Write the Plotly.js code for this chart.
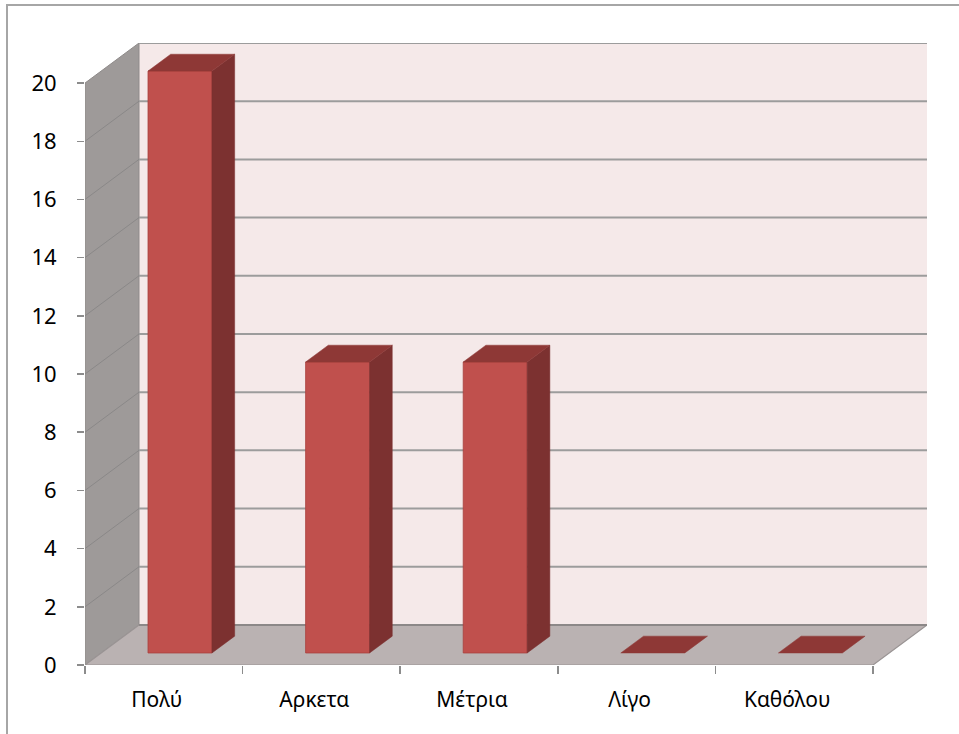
<!DOCTYPE html>
<html>
<head>
<meta charset="utf-8">
<script src="https://cdn.plot.ly/plotly-3.0.1.min.js"></script>
<style>
  html, body { margin: 0; padding: 0; background: #ffffff; }
  #frame { position: absolute; left: 6px; top: 4px; width: 980px; height: 760px;
           border: 2px solid #a6a6a6; box-sizing: border-box; pointer-events: none; }
  #chart { position: absolute; left: 0; top: 0; width: 959px; height: 734px; }
</style>
</head>
<body>
<div id="frame"></div>
<div id="chart"></div>
<script>
// ---- data ----
const categories = ['Πολύ', 'Αρκετα', 'Μέτρια', 'Λίγο', 'Καθόλου'];
const values = [20, 10, 10, 0, 0];
const yTickValues = [0, 2, 4, 6, 8, 10, 12, 14, 16, 18, 20];
const yTickLabels = ['0', '2', '4', '6', '8', '10', '12', '14', '16', '18', '20'];

// ---- pseudo-3D projection (depth offset expressed in axis units) ----
const N = categories.length;
const YMAX = 20;
const DX = 54 / 157.6;   // horizontal depth offset in category units
const DY = 40 / 29.05;   // vertical depth offset in value units
const D0 = 0.30, D1 = 0.72; // bar front / back depth
const HW = 0.203;           // bar half width

function P(x, y, d) { return [x + d * DX, y + d * DY]; }

function poly(pts, fill, lineColor, lineWidth) {
  const xs = [], ys = [];
  pts.forEach(p => { const q = P(p[0], p[1], p[2]); xs.push(q[0]); ys.push(q[1]); });
  xs.push(xs[0]); ys.push(ys[0]);
  return { type: 'scatter', mode: 'lines', x: xs, y: ys, fill: 'toself',
           fillcolor: fill, line: { color: lineColor || fill, width: lineWidth === undefined ? 0.5 : lineWidth },
           hoverinfo: 'skip', showlegend: false, xaxis: 'x', yaxis: 'y' };
}

function segments(list, color, width) {
  const xs = [], ys = [];
  list.forEach(s => {
    const a = P(s[0][0], s[0][1], s[0][2]);
    const b = P(s[1][0], s[1][1], s[1][2]);
    xs.push(a[0], b[0], null); ys.push(a[1], b[1], null);
  });
  return { type: 'scatter', mode: 'lines', x: xs, y: ys, line: { color: color, width: width },
           hoverinfo: 'skip', showlegend: false, xaxis: 'x', yaxis: 'y' };
}

const traces = [];
// back wall
traces.push(poly([[0, 0, 1], [N, 0, 1], [N, YMAX, 1], [0, YMAX, 1]], '#f5e9e9', '#f5e9e9', 0));
// left wall
traces.push(poly([[0, 0, 0], [0, YMAX, 0], [0, YMAX, 1], [0, 0, 1]], '#9e9a99', '#8f8b8a', 1));
// back wall gridlines
traces.push(segments(yTickValues.filter(v => v > 0).map(v => [[0, v, 1], [N, v, 1]]), '#9c9c9c', 2));
// left wall gridlines
traces.push(segments(yTickValues.filter(v => v > 0 && v < YMAX).map(v => [[0, v, 0], [0, v, 1]]), '#8a8888', 1));
// floor
traces.push(poly([[0, 0, 0], [N, 0, 0], [N, 0, 1], [0, 0, 1]], '#bab2b2', '#9a9494', 1.2));
// floor back edge
traces.push(segments([[[0, 0, 1], [N, 0, 1]]], '#8c8888', 2));

// bars
values.forEach((v, i) => {
  const x0 = i + 0.5 - HW, x1 = i + 0.5 + HW;
  if (v > 0) {
    traces.push(poly([[x0, 0, D0], [x1, 0, D0], [x1, v, D0], [x0, v, D0]], '#c0504d', '#a8403d', 0.8));
    traces.push(poly([[x1, 0, D0], [x1, 0, D1], [x1, v, D1], [x1, v, D0]], '#7c3130', '#7c3130', 0.5));
  }
  traces.push(poly([[x0, v, D0], [x1, v, D0], [x1, v, D1], [x0, v, D1]], '#8e3836', '#8e3836', 0.5));
});

// dummy trace on x2 so the boundary tick axis is drawn
traces.push({ type: 'scatter', mode: 'none', x: [0], y: [0], xaxis: 'x2', yaxis: 'y', hoverinfo: 'skip', showlegend: false });

const catCenters = categories.map((c, i) => i + 0.5);
const catBounds = categories.map((c, i) => i).concat([N]);

const font = { family: 'Noto Sans, Open Sans, sans-serif', size: 22, color: '#000000' };
const catFont = { family: 'Noto Sans, Open Sans, sans-serif', size: 21, color: '#000000' };

const layout = {
  width: 959, height: 734,
  margin: { l: 85, r: 32, t: 43, b: 69, pad: 0 },
  paper_bgcolor: 'rgba(0,0,0,0)',
  plot_bgcolor: 'rgba(0,0,0,0)',
  showlegend: false,
  font: font,
  xaxis: {
    range: [0, N + DX], fixedrange: true,
    tickmode: 'array', tickvals: catCenters, ticktext: categories,
    ticks: '', showgrid: false, zeroline: false, showline: false,
    tickfont: catFont, ticklabelshift: -7, ticklabelstandoff: 20
  },
  xaxis2: {
    range: [0, N + DX], overlaying: 'x', anchor: 'y', side: 'bottom',
    tickmode: 'array', tickvals: catBounds, showticklabels: false,
    ticks: 'outside', ticklen: 8, tickwidth: 1.5, tickcolor: '#8c8c8c',
    showgrid: false, zeroline: false, showline: false
  },
  yaxis: {
    range: [0, YMAX + DY], fixedrange: true,
    tickmode: 'array', tickvals: yTickValues, ticktext: yTickLabels,
    ticks: 'outside', ticklen: 7, tickwidth: 1.5, tickcolor: '#8c8c8c',
    showgrid: false, zeroline: false, showline: false,
    tickfont: font, ticklabelstandoff: 16
  }
};

Plotly.newPlot('chart', traces, layout, { displayModeBar: false, staticPlot: true });
</script>
</body>
</html>
